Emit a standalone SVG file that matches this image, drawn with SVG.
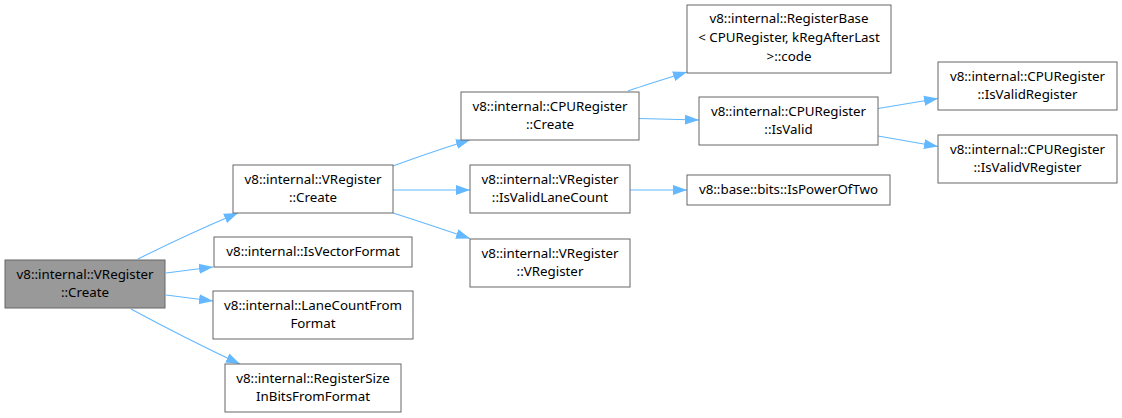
<svg xmlns="http://www.w3.org/2000/svg" width="1122" height="418" viewBox="0 0 1122 418">
<style>
.n rect{fill:#fff;stroke:#666;stroke-width:1}
.n.root rect{fill:#999}
.n text{font-family:"Noto Sans",sans-serif;font-size:13.33px;fill:#000;text-anchor:middle}
.e path{fill:none;stroke:#63b8ff;stroke-width:1.1;marker-end:url(#arr)}
</style>
<defs>
<marker id="arr" markerUnits="userSpaceOnUse" markerWidth="15" markerHeight="11" refX="14" refY="5.5" orient="auto"><path d="M0,0.5 L14,5.5 L0,10.5 z" fill="#63b8ff"/></marker>
</defs>
<rect width="1122" height="418" fill="#fff"/>
<g id="edges" class="e">
<path d="M138,259 C162,247 195,231 238,213"/>
<path d="M166,273 L213,267"/>
<path d="M166,295 L213,301"/>
<path d="M131,309 C155,322 195,343 240,364"/>
<path d="M393,166 C415,158 440,149 470,140"/>
<path d="M393,190 L470,190"/>
<path d="M393,213 C415,220 445,230 470,238.5"/>
<path d="M628,91 C645,85 665,79 687,72"/>
<path d="M639,118.5 L699,120"/>
<path d="M630,190 L687,190"/>
<path d="M878,108.5 L938,98.5"/>
<path d="M878,136 L938,146.5"/>
</g>
<g id="n_root" class="n root"><rect x="5" y="260" width="160" height="48"/><text x="85" y="279">v8::internal::VRegister</text><text x="85" y="297">::Create</text></g>
<g id="n_vcreate" class="n"><rect x="233" y="165" width="160" height="48"/><text x="313" y="184">v8::internal::VRegister</text><text x="313" y="202">::Create</text></g>
<g id="n_isvector" class="n"><rect x="214" y="237" width="198" height="30"/><text x="313" y="256">v8::internal::IsVectorFormat</text></g>
<g id="n_lanecount" class="n"><rect x="213" y="291" width="200" height="48"/><text x="313" y="310">v8::internal::LaneCountFrom</text><text x="313" y="328">Format</text></g>
<g id="n_regsize" class="n"><rect x="225" y="364" width="176" height="48"/><text x="313" y="383">v8::internal::RegisterSize</text><text x="313" y="401">InBitsFromFormat</text></g>
<g id="n_cpucreate" class="n"><rect x="461" y="92" width="178" height="48"/><text x="550" y="111">v8::internal::CPURegister</text><text x="550" y="129">::Create</text></g>
<g id="n_isvalidlane" class="n"><rect x="470" y="165" width="160" height="48"/><text x="550" y="184">v8::internal::VRegister</text><text x="550" y="202">::IsValidLaneCount</text></g>
<g id="n_vregister" class="n"><rect x="470" y="239" width="160" height="48"/><text x="550" y="258">v8::internal::VRegister</text><text x="550" y="276">::VRegister</text></g>
<g id="n_regbase" class="n"><rect x="687" y="5" width="204" height="68"/><text x="789" y="23">v8::internal::RegisterBase</text><text x="789" y="42">&lt; CPURegister, kRegAfterLast</text><text x="789" y="61">&gt;::code</text></g>
<g id="n_isvalid" class="n"><rect x="699" y="97" width="179" height="48"/><text x="788.5" y="116">v8::internal::CPURegister</text><text x="788.5" y="134">::IsValid</text></g>
<g id="n_pow2" class="n"><rect x="687" y="175" width="203" height="30"/><text x="788.5" y="194">v8::base::bits::IsPowerOfTwo</text></g>
<g id="n_isvalidreg" class="n"><rect x="938" y="62" width="179" height="48"/><text x="1027.5" y="81">v8::internal::CPURegister</text><text x="1027.5" y="99">::IsValidRegister</text></g>
<g id="n_isvalidvreg" class="n"><rect x="938" y="135" width="179" height="48"/><text x="1027.5" y="154">v8::internal::CPURegister</text><text x="1027.5" y="172">::IsValidVRegister</text></g>
</svg>
